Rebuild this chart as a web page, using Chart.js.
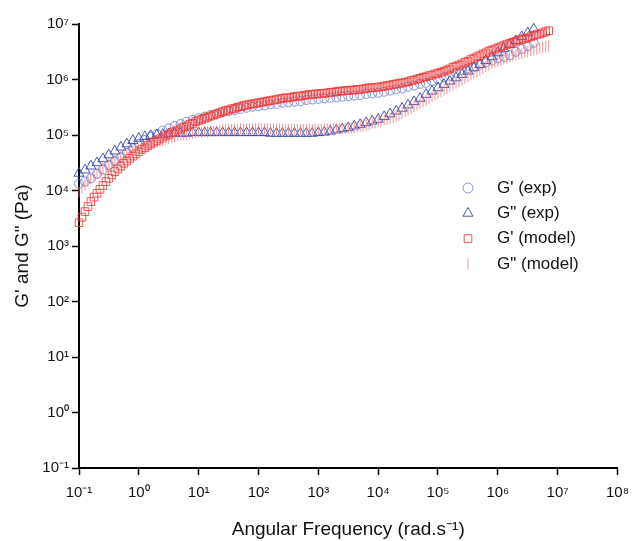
<!DOCTYPE html>
<html><head><meta charset="utf-8">
<script src="https://cdn.jsdelivr.net/npm/chart.js@4/dist/chart.umd.min.js"></script>
<style>html,body{margin:0;padding:0;background:#fff;}#wrap{width:638px;height:541px;}</style>
</head><body><div id="wrap"><canvas id="c" width="638" height="541"></canvas></div>
<script>
// ---- data ----
const freqExp = [
  0.1, 0.126, 0.158, 0.2, 0.251, 0.316, 0.398, 0.501, 0.631, 0.794,
  1, 1.26, 1.58, 2, 2.51, 3.16, 3.98, 5.01, 6.31, 7.94,
  10, 12.6, 15.8, 20, 25.1, 31.6, 39.8, 50.1, 63.1, 79.4,
  100, 126, 158, 200, 251, 316, 398, 501, 631, 794,
  1000, 1260, 1580, 2000, 2510, 3160, 3980, 5010, 6310, 7940,
  1e4, 12600, 15800, 20000, 25100, 31600, 39800, 50100, 63100, 79400,
  1e5, 126000, 158000, 200000, 251000, 316000, 398000, 501000, 631000, 794000,
  1e6, 1.26e6, 1.58e6, 2e6, 2.51e6, 3.16e6, 3.98e6];
const gpExp = [
  13200, 14500, 16600, 20000, 24000, 28800, 33900, 39800, 47900, 57500,
  69200, 81300, 93300, 105000, 120000, 132000, 145000, 158000, 174000, 186000,
  200000, 214000, 229000, 240000, 257000, 269000, 282000, 295000, 309000, 324000,
  331000, 339000, 355000, 363000, 380000, 389000, 398000, 407000, 427000, 437000,
  447000, 457000, 468000, 479000, 490000, 501000, 513000, 525000, 550000, 562000,
  575000, 603000, 631000, 661000, 692000, 741000, 776000, 832000, 871000, 933000,
  1.00e6, 1.10e6, 1.17e6, 1.32e6, 1.45e6, 1.58e6, 1.70e6, 1.86e6, 2.04e6, 2.19e6,
  2.40e6, 2.57e6, 2.75e6, 3.16e6, 3.55e6, 3.98e6, 4.57e6];
const gppExp = [
  20400, 23400, 27500, 31600, 37200, 43700, 51300, 60300, 69200, 79400,
  87100, 93300, 97700, 100000, 102000, 105000, 107000, 107000, 107000, 110000,
  110000, 110000, 110000, 110000, 110000, 110000, 110000, 110000, 110000, 110000,
  110000, 110000, 107000, 107000, 107000, 107000, 107000, 107000, 107000, 107000,
  110000, 112000, 117000, 123000, 129000, 135000, 145000, 155000, 166000, 178000,
  191000, 214000, 240000, 269000, 302000, 347000, 398000, 457000, 537000, 617000,
  708000, 813000, 933000, 1.07e6, 1.23e6, 1.41e6, 1.62e6, 1.86e6, 2.19e6, 2.57e6,
  3.02e6, 3.63e6, 4.27e6, 5.01e6, 5.89e6, 6.92e6, 8.13e6];
const freqModel = [
  0.1, 0.112, 0.126, 0.141, 0.158, 0.178, 0.2, 0.224, 0.251, 0.282, 0.316, 0.355, 0.398, 0.447, 0.501, 0.562, 0.631, 0.708, 0.794, 0.891,
  1, 1.12, 1.26, 1.41, 1.58, 1.78, 2, 2.24, 2.51, 2.82, 3.16, 3.55, 3.98, 4.47, 5.01, 5.62, 6.31, 7.08, 7.94, 8.91,
  10, 11.2, 12.6, 14.1, 15.8, 17.8, 20, 22.4, 25.1, 28.2, 31.6, 35.5, 39.8, 44.7, 50.1, 56.2, 63.1, 70.8, 79.4, 89.1,
  100, 112, 126, 141, 158, 178, 200, 224, 251, 282, 316, 355, 398, 447, 501, 562, 631, 708, 794, 891,
  1000, 1120, 1260, 1410, 1580, 1780, 2000, 2240, 2510, 2820, 3160, 3550, 3980, 4470, 5010, 5620, 6310, 7080, 7940, 8910,
  1e4, 11200, 12600, 14100, 15800, 17800, 20000, 22400, 25100, 28200, 31600, 35500, 39800, 44700, 50100, 56200, 63100, 70800, 79400, 89100,
  1e5, 112000, 126000, 141000, 158000, 178000, 200000, 224000, 251000, 282000, 316000, 355000, 398000, 447000, 501000, 562000, 631000, 708000, 794000, 891000,
  1e6, 1.12e6, 1.26e6, 1.41e6, 1.58e6, 1.78e6, 2e6, 2.24e6, 2.51e6, 2.82e6, 3.16e6, 3.55e6, 3.98e6, 4.47e6, 5.01e6, 5.62e6, 6.31e6, 7.08e6];
const gpModel = [
  2630, 3310, 4170, 5130, 6310, 7590, 8910, 10500, 12300, 14500, 16600, 19100, 21900, 24500, 27500, 30900, 33900, 38000, 41700, 45700,
  50100, 55000, 58900, 64600, 69200, 74100, 79400, 85100, 91200, 97700, 102000, 110000, 115000, 123000, 129000, 138000, 145000, 155000, 162000, 174000,
  182000, 191000, 200000, 209000, 219000, 229000, 240000, 251000, 263000, 275000, 282000, 295000, 302000, 316000, 324000, 339000, 347000, 355000, 363000, 372000,
  380000, 389000, 398000, 407000, 417000, 427000, 437000, 447000, 457000, 468000, 468000, 479000, 490000, 501000, 501000, 513000, 525000, 537000, 537000, 550000,
  550000, 562000, 562000, 575000, 589000, 589000, 603000, 617000, 617000, 631000, 631000, 646000, 646000, 661000, 661000, 676000, 692000, 708000, 708000, 724000,
  724000, 741000, 759000, 776000, 794000, 813000, 832000, 851000, 871000, 891000, 912000, 955000, 977000, 1.02e6, 1.05e6, 1.10e6, 1.12e6, 1.17e6, 1.20e6, 1.26e6,
  1.29e6, 1.35e6, 1.41e6, 1.48e6, 1.55e6, 1.66e6, 1.74e6, 1.82e6, 1.91e6, 2.04e6, 2.14e6, 2.29e6, 2.40e6, 2.57e6, 2.69e6, 2.88e6, 3.02e6, 3.24e6, 3.39e6, 3.55e6,
  3.72e6, 3.89e6, 4.07e6, 4.27e6, 4.47e6, 4.68e6, 4.90e6, 5.13e6, 5.25e6, 5.50e6, 5.62e6, 5.89e6, 6.17e6, 6.46e6, 6.61e6, 6.92e6, 7.24e6, 7.59e6];
const gppModel = [
  9330, 11000, 12600, 14500, 16200, 18200, 20400, 22900, 25100, 27500, 30200, 33100, 35500, 38000, 40700, 43700, 45700, 49000, 51300, 53700,
  56200, 58900, 61700, 64600, 67600, 70800, 74100, 77600, 79400, 83200, 85100, 89100, 91200, 95500, 97700, 100000, 102000, 105000, 107000, 110000,
  112000, 112000, 115000, 115000, 117000, 117000, 120000, 120000, 123000, 123000, 126000, 126000, 126000, 126000, 129000, 129000, 129000, 129000, 129000, 129000,
  129000, 129000, 129000, 129000, 129000, 129000, 129000, 129000, 126000, 126000, 126000, 126000, 126000, 126000, 126000, 126000, 126000, 126000, 126000, 126000,
  126000, 126000, 129000, 129000, 129000, 129000, 132000, 132000, 132000, 132000, 135000, 135000, 138000, 141000, 145000, 148000, 151000, 155000, 162000, 166000,
  174000, 178000, 186000, 191000, 200000, 209000, 219000, 229000, 245000, 263000, 282000, 302000, 324000, 347000, 372000, 398000, 427000, 457000, 490000, 525000,
  562000, 603000, 646000, 692000, 741000, 794000, 851000, 912000, 977000, 1.05e6, 1.12e6, 1.20e6, 1.29e6, 1.38e6, 1.48e6, 1.58e6, 1.70e6, 1.82e6, 1.95e6, 2.04e6,
  2.14e6, 2.24e6, 2.34e6, 2.45e6, 2.57e6, 2.69e6, 2.75e6, 2.88e6, 2.95e6, 3.09e6, 3.16e6, 3.31e6, 3.39e6, 3.55e6, 3.63e6, 3.80e6, 3.89e6, 3.98e6];
const xTickValues = [0.1, 1, 10, 100, 1e3, 1e4, 1e5, 1e6, 1e7, 1e8];
const xTickLabels = ['10⁻¹', '10⁰', '10¹', '10²', '10³', '10⁴', '10⁵', '10⁶', '10⁷', '10⁸'];
const yTickValues = [0.1, 1, 10, 100, 1e3, 1e4, 1e5, 1e6, 1e7];
const yTickLabels = ['10⁻¹', '10⁰', '10¹', '10²', '10³', '10⁴', '10⁵', '10⁶', '10⁷'];
const seriesLabels = ["G' (exp)", 'G" (exp)', "G' (model)", 'G" (model)'];
const xTitle = 'Angular Frequency (rad.s⁻¹)';
const yTitle = 'G\' and G" (Pa)';

// ---- build ----
const FONT = "'Liberation Sans', Arial, sans-serif";
const pts = (xs, ys) => xs.map((x, i) => ({x: x, y: ys[i]}));
const styles = [
  {pointStyle: 'circle', radius: 4.5, rotation: 0, color: 'rgba(105,120,200,0.8)'},
  {pointStyle: 'triangle', radius: 5.8, rotation: 0, color: 'rgba(55,72,170,0.9)'},
  {pointStyle: 'rect', radius: 5.4, rotation: 0, color: 'rgba(240,55,55,0.85)'},
  {pointStyle: 'line', radius: 5.5, rotation: 90, color: 'rgba(242,110,110,0.75)'}
];
const seriesData = [pts(freqExp, gpExp), pts(freqExp, gppExp), pts(freqModel, gpModel), pts(freqModel, gppModel)];
const orders = [3, 2, 1, 0];
const datasets = seriesData.map((d, i) => ({
  label: seriesLabels[i], data: d, showLine: false, clip: false, order: orders[i],
  pointStyle: styles[i].pointStyle, pointRadius: styles[i].radius, pointRotation: styles[i].rotation,
  pointBorderColor: styles[i].color, pointBackgroundColor: 'rgba(0,0,0,0)', pointBorderWidth: 1,
  pointHoverRadius: styles[i].radius
}));

const legendPlugin = {
  id: 'insideLegend',
  afterDraw(chart) {
    const ctx = chart.ctx;
    const mx = 468, tx = 497, y0 = 188, step = 25.3;
    ctx.save();
    chart.data.datasets.forEach((ds, i) => {
      const y = y0 + i * step;
      const st = styles[i];
      ctx.strokeStyle = st.color; ctx.fillStyle = 'rgba(0,0,0,0)'; ctx.lineWidth = 1;
      Chart.helpers.drawPoint(ctx, {pointStyle: st.pointStyle, radius: st.pointStyle === 'circle' ? 5 : st.radius, rotation: st.rotation, borderWidth: 1}, mx, y);
      ctx.fillStyle = '#111'; ctx.font = '17px ' + FONT; ctx.textBaseline = 'middle'; ctx.textAlign = 'left';
      ctx.fillText(ds.label, tx, y);
    });
    ctx.restore();
  }
};

const axisCommon = (vals, labels) => ({
  type: 'logarithmic',
  afterBuildTicks: s => { s.ticks = vals.map(v => ({value: v})); },
  ticks: { autoSkip: false, maxRotation: 0, minRotation: 0, color: '#111', font: {family: FONT, size: 15},
    callback: v => labels[vals.indexOf(v)] },
  grid: { drawOnChartArea: false, drawTicks: true, tickLength: 7, tickWidth: 1.5, tickColor: '#000' },
  border: { display: true, color: '#000', width: 2 }
});
const xAxis = Object.assign(axisCommon(xTickValues, xTickLabels), {
  position: 'bottom', min: 0.1, max: 1e8,
  afterFit: s => { s.height = 73; },
  title: { display: true, text: xTitle, color: '#111', font: {family: FONT, size: 19}, padding: {top: 0, bottom: 0} }
});
xAxis.ticks.padding = 9;
const yAxis = Object.assign(axisCommon(yTickValues, yTickLabels), {
  position: 'left', min: 0.1, max: 1e7,
  afterFit: s => { s.width = 79; },
  title: { display: true, text: yTitle, color: '#111', font: {family: FONT, size: 19}, padding: {top: 11, bottom: 0} }
});
yAxis.ticks.padding = 3;

new Chart(document.getElementById('c'), {
  type: 'scatter',
  data: { datasets: datasets },
  options: {
    responsive: false, animation: false, devicePixelRatio: 1,
    layout: { padding: {top: 24, right: 11, left: 0, bottom: 0} },
    plugins: { legend: {display: false}, tooltip: {enabled: false} },
    scales: { x: xAxis, y: yAxis }
  },
  plugins: [legendPlugin]
});
</script>
</body></html>
